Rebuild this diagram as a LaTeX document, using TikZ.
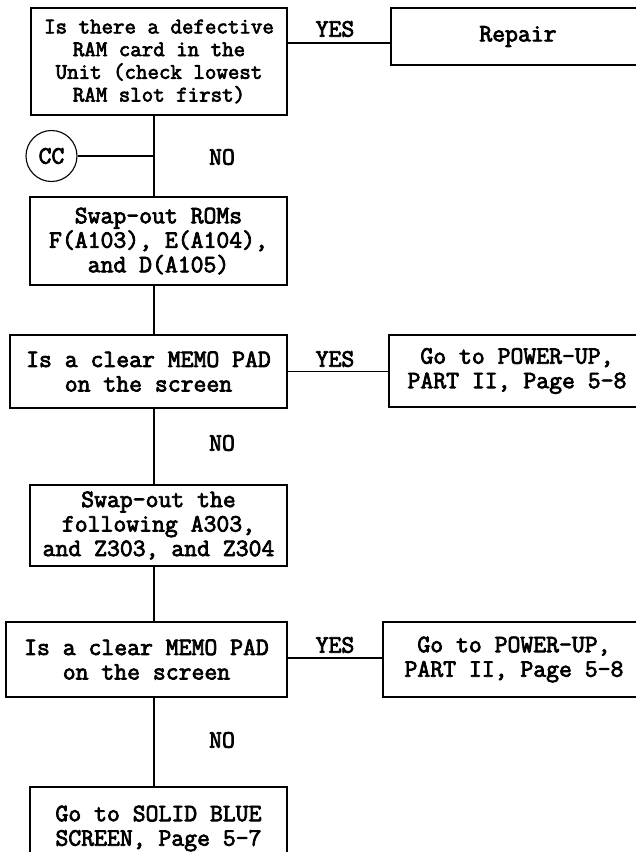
\documentclass[tikz,border=0pt]{standalone}
\usepackage{fontspec}
\newfontfamily\typer[FakeBold=3]{Latin Modern Mono}
\usepackage{tikz}

\begin{document}
\begin{tikzpicture}[x=1pt,y=-1pt,font=\typer\fontsize{25}{24.5}\selectfont,
  box/.style={draw,line width=1.4pt,inner sep=0pt,align=center},
  small/.style={font=\typer\fontsize{22.3}{22.7}\selectfont},
  link/.style={line width=1.1pt}]
\clip (0,0) rectangle (636,852);
\coordinate (spine) at (154,0);

% left column
\node[box,small,minimum width=256pt,minimum height=107pt] (ramq) at (159,61.5)
  {Is there a defective\\RAM card in the\\Unit (check lowest\\RAM slot first)};
\node[box,minimum width=257pt,minimum height=88pt] (roms) at (158.5,241)
  {Swap-out ROMs\\F(A103), E(A104),\\and D(A105)};
\node[box,minimum width=277pt,minimum height=73pt] (memoa) at (148.5,371.5)
  {Is a clear MEMO PAD\\on the screen};
\node[box,minimum width=257pt,minimum height=81pt] (chips) at (158.5,525.5)
  {Swap-out the\\following A303,\\and Z303, and Z304};
\node[box,minimum width=281pt,minimum height=75pt] (memob) at (146.5,659.5)
  {Is a clear MEMO PAD\\on the screen};
\node[box,minimum width=257pt,minimum height=83pt] (blue) at (158.5,828.5)
  {Go to SOLID BLUE\\SCREEN, Page 5-7};

% right column
\node[box,minimum width=254pt,minimum height=57pt] (repair) at (518,36.5) {Repair};
\node[box,minimum width=256pt,minimum height=72pt] (poweruA) at (517,371)
  {Go to POWER-UP,\\PART II, Page 5-8};
\node[box,minimum width=262pt,minimum height=75pt] (poweruB) at (514,659.5)
  {Go to POWER-UP,\\PART II, Page 5-8};

\node[draw,circle,link,minimum size=51pt,inner sep=0pt] (cc) at (51.5,156) {CC};

% connectors
\draw[link] (ramq.south -| spine) -- (roms.north -| spine);
\draw[link] (roms.south -| spine) -- (memoa.north -| spine);
\draw[link] (memoa.south -| spine) -- (chips.north -| spine);
\draw[link] (chips.south -| spine) -- (memob.north -| spine);
\draw[link] (memob.south -| spine) -- (blue.north -| spine);
\draw[link] (cc.east) -- (cc.east -| spine);

\coordinate (yesa) at (0,43);
\draw[link] (ramq.east |- yesa) -- (repair.west |- yesa);
\draw[link] (memoa.east) -- (poweruA.west |- memoa.east);
\coordinate (yesc) at (0,658);
\draw[link] (memob.east |- yesc) -- (poweruB.west |- yesc);

% labels
\node (ya) at (335,29) {YES};
\node (yb) at (335,359) {YES};
\node (yc) at (335,645) {YES};
\node (na) at (222,157) {NO};
\node (nb) at (222,443) {NO};
\node (nc) at (222,740) {NO};
\end{tikzpicture}
\end{document}
